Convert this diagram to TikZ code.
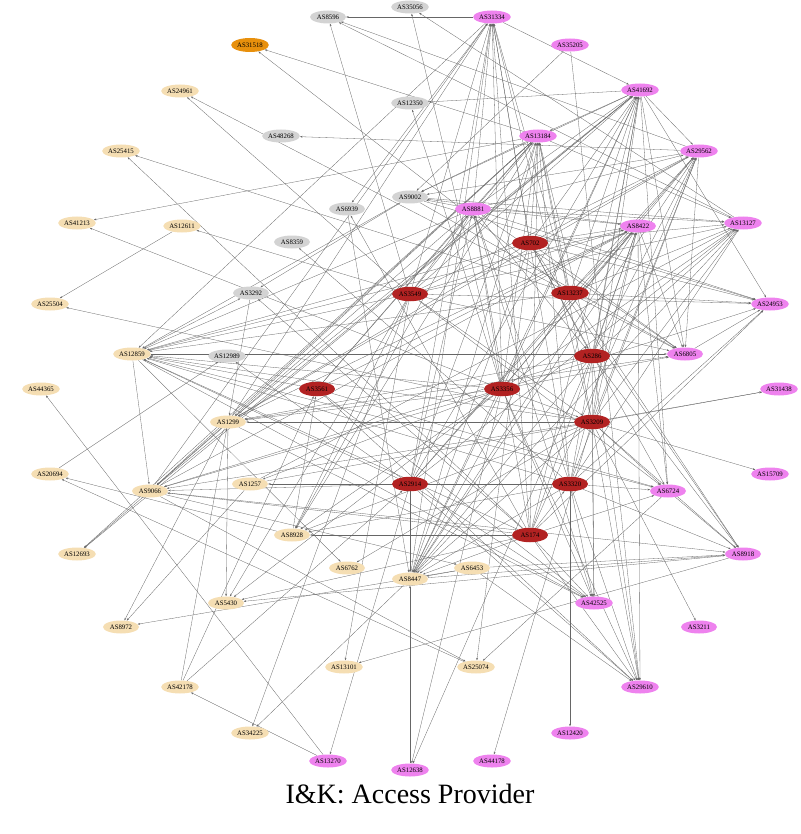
\documentclass[tikz,border=0pt]{standalone}
\usepackage{fontspec}
\setmainfont{Liberation Serif}
\usetikzlibrary{shapes.geometric,arrows.meta,backgrounds}
\definecolor{cgrey}{HTML}{D3D3D3}
\definecolor{ctan}{HTML}{F5DEB3}
\definecolor{cpink}{HTML}{EE82EE}
\definecolor{cred}{HTML}{B22222}
\definecolor{corange}{HTML}{E8900C}
\begin{document}
\begin{tikzpicture}[x=1pt,y=-1pt,
  asnode/.style={ellipse, minimum width=36pt, minimum height=13pt, inner sep=0.5pt, font=\fontsize{6.8}{7.5}\selectfont},
  gnode/.style={asnode, fill=cgrey},
  tnode/.style={asnode, fill=ctan},
  pnode/.style={asnode, fill=cpink},
  rnode/.style={asnode, fill=cred, minimum height=14.5pt},
  onode/.style={asnode, fill=corange, minimum height=14pt},
  lnk/.style={draw=black!60, line width=0.3pt, -{Stealth[length=2.6pt,width=1.8pt]}}]
\useasboundingbox (0,0) rectangle (800,834);
% grey
\node[gnode] (AS8596) at (328,17) {AS8596};
\node[gnode] (AS35056) at (410,7) {AS35056};
\node[gnode] (AS12350) at (410,103) {AS12350};
\node[gnode] (AS48268) at (281,136) {AS48268};
\node[gnode] (AS9002) at (410,197) {AS9002};
\node[gnode] (AS6939) at (347,209) {AS6939};
\node[gnode] (AS8359) at (292,242) {AS8359};
\node[gnode] (AS3292) at (251,293) {AS3292};
\node[gnode] (AS12989) at (227,356) {AS12989};
% orange
\node[onode] (AS31518) at (250,45) {AS31518};
% tan
\node[tnode] (AS24961) at (180,91) {AS24961};
\node[tnode] (AS25415) at (121,151) {AS25415};
\node[tnode] (AS41213) at (77,223) {AS41213};
\node[tnode] (AS12611) at (182,226) {AS12611};
\node[tnode] (AS25504) at (50,304) {AS25504};
\node[tnode] (AS12859) at (132,354) {AS12859};
\node[tnode] (AS44365) at (41,389) {AS44365};
\node[tnode] (AS1299) at (228,422) {AS1299};
\node[tnode] (AS20694) at (50,474) {AS20694};
\node[tnode] (AS9066) at (150,491) {AS9066};
\node[tnode] (AS1257) at (250,484) {AS1257};
\node[tnode] (AS12693) at (77,554) {AS12693};
\node[tnode] (AS8928) at (292,535) {AS8928};
\node[tnode] (AS6762) at (347,568) {AS6762};
\node[tnode] (AS8447) at (410,579) {AS8447};
\node[tnode] (AS6453) at (472,568) {AS6453};
\node[tnode] (AS5430) at (226,603) {AS5430};
\node[tnode] (AS8972) at (121,627) {AS8972};
\node[tnode] (AS13101) at (344,667) {AS13101};
\node[tnode] (AS25074) at (476,667) {AS25074};
\node[tnode] (AS42178) at (180,687) {AS42178};
\node[tnode] (AS34225) at (250,733) {AS34225};
% pink
\node[pnode] (AS31334) at (492,17) {AS31334};
\node[pnode] (AS35205) at (570,45) {AS35205};
\node[pnode] (AS41692) at (640,90) {AS41692};
\node[pnode] (AS13184) at (538,136) {AS13184};
\node[pnode] (AS29562) at (699,151) {AS29562};
\node[pnode] (AS8881) at (473,209) {AS8881};
\node[pnode] (AS8422) at (638,226) {AS8422};
\node[pnode] (AS13127) at (743,223) {AS13127};
\node[pnode] (AS24953) at (770,304) {AS24953};
\node[pnode] (AS6805) at (685,354) {AS6805};
\node[pnode] (AS31438) at (779,389) {AS31438};
\node[pnode] (AS15709) at (770,474) {AS15709};
\node[pnode] (AS6724) at (668,491) {AS6724};
\node[pnode] (AS8918) at (743,554) {AS8918};
\node[pnode] (AS42525) at (594,603) {AS42525};
\node[pnode] (AS3211) at (699,627) {AS3211};
\node[pnode] (AS29610) at (640,687) {AS29610};
\node[pnode] (AS12420) at (570,733) {AS12420};
\node[pnode] (AS13270) at (328,761) {AS13270};
\node[pnode] (AS12638) at (410,770) {AS12638};
\node[pnode] (AS44178) at (492,761) {AS44178};
% red
\node[rnode] (AS702) at (530,243) {AS702};
\node[rnode] (AS3549) at (410,294) {AS3549};
\node[rnode] (AS13237) at (570,293) {AS13237};
\node[rnode] (AS286) at (592,356) {AS286};
\node[rnode] (AS3561) at (317,389) {AS3561};
\node[rnode] (AS3356) at (502,389) {AS3356};
\node[rnode] (AS3209) at (592,422) {AS3209};
\node[rnode] (AS2914) at (410,484) {AS2914};
\node[rnode] (AS3320) at (570,484) {AS3320};
\node[rnode] (AS174) at (530,535) {AS174};
% title
\node[font=\fontsize{28}{32}\selectfont, anchor=base] (title) at (410,803) {I\&K: Access Provider};
\begin{pgfonlayer}{background}
\foreach \a/\b in {
AS8881/AS31334, AS3549/AS31334, AS702/AS31334, AS13237/AS31334, AS3356/AS31334, AS2914/AS31334, AS3320/AS31334, AS174/AS31334, AS8447/AS31334, AS3209/AS31334, AS1299/AS31334, AS9066/AS31334,
AS31334/AS8596, AS31334/AS6939, AS31334/AS12859, AS31334/AS41692,
AS8881/AS41692, AS702/AS41692, AS3549/AS41692, AS13237/AS41692, AS286/AS41692, AS3356/AS41692, AS3209/AS41692, AS3320/AS41692, AS174/AS41692, AS2914/AS41692, AS8447/AS41692, AS9066/AS41692, AS1299/AS41692,
AS41692/AS12350, AS41692/AS13184, AS41692/AS29562, AS41692/AS12693, AS41692/AS6724, AS41692/AS6805, AS41692/AS24953, AS41692/AS9002,
AS8881/AS13184, AS702/AS13184, AS13237/AS13184, AS3549/AS13184, AS3356/AS13184, AS286/AS13184, AS3209/AS13184, AS3320/AS13184, AS174/AS13184, AS2914/AS13184, AS8447/AS13184, AS3561/AS13184,
AS13184/AS31518, AS13184/AS41213, AS13184/AS9002, AS13184/AS1299, AS13184/AS9066, AS13184/AS8928, AS13184/AS12693, AS13184/AS13127,
AS702/AS29562, AS13237/AS29562, AS3549/AS29562, AS3356/AS29562, AS3209/AS29562, AS3320/AS29562, AS174/AS29562, AS8881/AS29562, AS286/AS29562, AS2914/AS29562, AS8447/AS29562,
AS29562/AS8596, AS29562/AS48268, AS29562/AS9002, AS29562/AS1299, AS29562/AS6805,
AS8881/AS8422, AS702/AS8422, AS13237/AS8422, AS3549/AS8422, AS3356/AS8422, AS286/AS8422, AS3209/AS8422, AS3320/AS8422, AS174/AS8422, AS2914/AS8422, AS8447/AS8422, AS1299/AS8422, AS9066/AS8422, AS12859/AS8422, AS3561/AS8422,
AS8422/AS9002, AS8422/AS29610, AS8422/AS6724, AS8422/AS6805,
AS8881/AS13127, AS9002/AS13127, AS702/AS13127, AS13237/AS13127, AS3356/AS13127, AS286/AS13127, AS3209/AS13127, AS1257/AS13127, AS8447/AS13127, AS3320/AS13127, AS3549/AS13127, AS2914/AS13127,
AS13127/AS8596, AS13127/AS35056,
AS13237/AS24953, AS8881/AS24953, AS3320/AS24953, AS174/AS24953, AS3549/AS24953, AS9002/AS24953, AS702/AS24953, AS3356/AS24953, AS6805/AS24953,
AS12859/AS6805, AS13237/AS6805, AS702/AS6805, AS8881/AS6805, AS9002/AS6805, AS3549/AS6805, AS3356/AS6805, AS1299/AS6805,
AS174/AS6724, AS3561/AS6724, AS12859/AS6724, AS3209/AS6724, AS3320/AS6724, AS3549/AS6724, AS702/AS6724,
AS6724/AS25074, AS6724/AS8918,
AS6453/AS8918, AS8447/AS8918, AS286/AS8918, AS13237/AS8918, AS3209/AS8918, AS3320/AS8918, AS702/AS8918, AS9066/AS8918,
AS8918/AS5430, AS8918/AS13101,
AS1299/AS42525, AS12859/AS42525, AS3356/AS42525, AS174/AS42525, AS2914/AS42525, AS3561/AS42525, AS3209/AS42525, AS3320/AS42525, AS286/AS42525, AS8881/AS42525,
AS6453/AS29610, AS2914/AS29610, AS3561/AS29610, AS174/AS29610, AS3356/AS29610, AS3320/AS29610, AS3209/AS29610, AS286/AS29610, AS35205/AS29610,
AS3549/AS8881, AS3356/AS8881, AS2914/AS8881, AS3561/AS8881, AS3320/AS8881, AS174/AS8881,
AS8881/AS9002, AS8881/AS286, AS8881/AS12859, AS8881/AS8928, AS8881/AS9066,
AS3549/AS12859, AS702/AS12859, AS13237/AS12859, AS3356/AS12859, AS9002/AS12859, AS3209/AS12859, AS3320/AS12859, AS2914/AS12859, AS174/AS12859, AS3561/AS12859,
AS12859/AS3292, AS12859/AS9066, AS12859/AS6762,
AS3356/AS1299, AS3209/AS1299, AS286/AS1299, AS702/AS1299, AS3292/AS1299, AS42178/AS1299,
AS1299/AS5430, AS1299/AS8972, AS1299/AS9066,
AS3356/AS9066, AS286/AS9066, AS3209/AS9066, AS2914/AS9066, AS174/AS9066,
AS9066/AS12693, AS9066/AS25074, AS9066/AS6453,
AS2914/AS8447, AS3320/AS8447, AS3209/AS8447, AS3356/AS8447, AS702/AS8447, AS13237/AS8447, AS286/AS8447, AS174/AS8447, AS6939/AS8447, AS12638/AS8447, AS6453/AS8447,
AS8447/AS34225,
AS3549/AS8928, AS3356/AS8928, AS3209/AS8928, AS3320/AS8928, AS174/AS8928,
AS8928/AS20694, AS8928/AS3561,
AS3356/AS1257, AS3320/AS1257, AS1257/AS8972, AS1257/AS31438,
AS3549/AS8596, AS3356/AS35056, AS13237/AS31518,
AS3549/AS24961, AS13237/AS24961, AS174/AS25415, AS13237/AS25415, AS3356/AS41213,
AS12611/AS25504, AS3549/AS12611, AS3209/AS25504, AS3356/AS12350, AS3320/AS8359,
AS174/AS6939, AS174/AS3292, AS9002/AS3292, AS35205/AS9002,
AS3209/AS31438, AS3209/AS15709, AS3209/AS3211, AS3320/AS12420, AS3209/AS44178,
AS13270/AS44365, AS2914/AS13270, AS13270/AS42178, AS3549/AS34225,
AS42178/AS3561, AS42178/AS2914, AS6453/AS8972,
AS3549/AS5430, AS3356/AS5430, AS174/AS5430, AS3549/AS13101,
AS702/AS25074, AS25074/AS20694, AS20694/AS12989, AS2914/AS12989,
AS286/AS12638, AS3356/AS12638, AS3209/AS6762,
AS702/AS286, AS3356/AS3209, AS3549/AS3209, AS174/AS3320}
  \draw[lnk] (\a) -- (\b);
\end{pgfonlayer}
\end{tikzpicture}
\end{document}
